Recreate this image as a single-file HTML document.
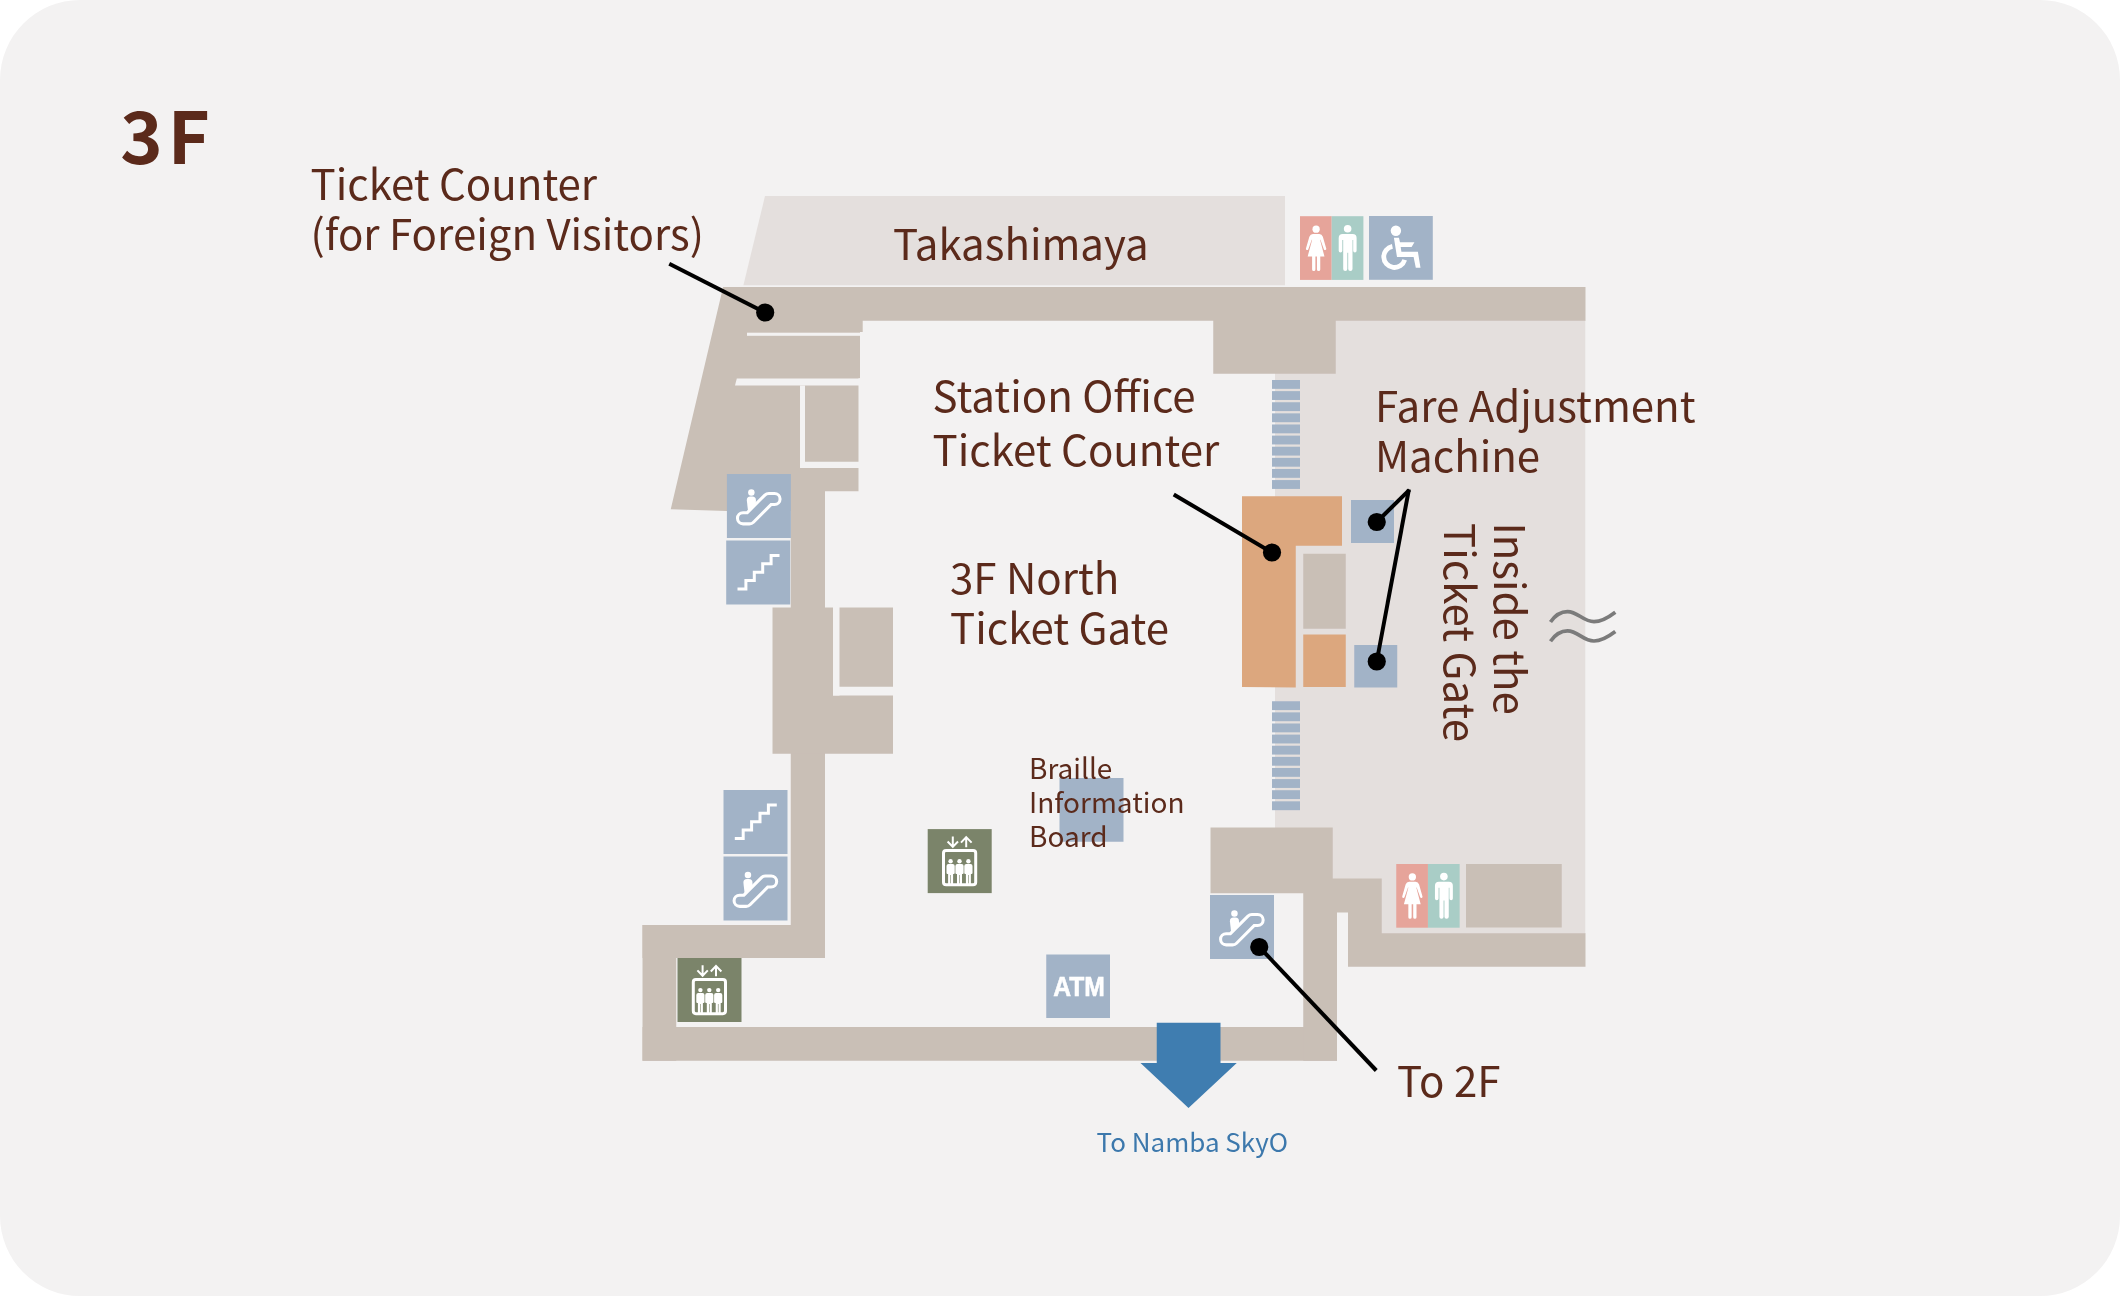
<!DOCTYPE html>
<html lang="en">
<head>
<meta charset="utf-8">
<title>3F Floor Map</title>
<style>
html,body{margin:0;padding:0;background:#fff;}
body{width:2120px;height:1296px;overflow:hidden;}
#map{display:block;width:2120px;height:1296px;will-change:transform;}
text{font-family:"Noto Sans CJK JP","Liberation Sans",sans-serif;fill:#5b2a1b;}
.l42{font-size:42px;}
.l26{font-size:28px;}
</style>
</head>
<body>
<svg id="map" width="2120" height="1296" viewBox="0 0 2120 1296">
<defs>
  <!-- escalator icon, 64x64 -->
  <g id="esc">
    <rect width="64" height="64" fill="#a2b3c7"/>
    <circle cx="24.45" cy="18.4" r="3.25" fill="#fff"/>
    <path d="M21.3 38.5 L19.9 26.2 Q19.8 22.5 23.5 22.5 L25.3 22.5 Q29 22.5 29 26.2 L29 30.5 L22 38.5 Z" fill="#fff"/>
    <path d="M16.15 44.3 H22.6 L41.9 25 H47.6" fill="none" stroke="#fff" stroke-width="14.2" stroke-linecap="round" stroke-linejoin="round"/>
    <path d="M16.15 44.3 H22.6 L41.9 25 H47.6" fill="none" stroke="#a2b3c7" stroke-width="8.1" stroke-linecap="round" stroke-linejoin="round"/>
  </g>
  <!-- stairs icon -->
  <g id="stairs">
    <rect width="64" height="64" fill="#a2b3c7"/>
    <path d="M11.3 48.5 H19.7 V40.1 H28.1 V31.7 H36.5 V23.3 H44.9 V14.9 H53.3" fill="none" stroke="#fff" stroke-width="3"/>
  </g>
  <!-- elevator icon -->
  <g id="person3">
    <circle cx="0" cy="32.1" r="2.2" fill="#fff"/>
    <path d="M-4.1 37 Q-4.1 35 -2.1 35 H2.1 Q4.1 35 4.1 37 V44 Q4.1 45 3.1 45 H2.5 V54.9 H0.3 V46 H-0.3 V54.9 H-2.5 V45 H-3.1 Q-4.1 45 -4.1 44 Z" fill="#fff"/>
  </g>
  <g id="elev">
    <rect width="64" height="64" fill="#7b846a"/>
    <rect x="15.8" y="21.4" width="32.2" height="34.3" rx="2.6" fill="none" stroke="#fff" stroke-width="3"/>
    <use href="#person3" x="22.9"/>
    <use href="#person3" x="31.8"/>
    <use href="#person3" x="40.7"/>
    <path d="M25.1 7.3 V17.6 M19.9 12.4 L25.1 17.8 L30.3 12.4" fill="none" stroke="#fff" stroke-width="2"/>
    <path d="M38.5 8.2 V18.2 M33.3 13.5 L38.5 8 L43.9 13.5" fill="none" stroke="#fff" stroke-width="2"/>
  </g>
  <!-- toilets -->
  <g id="wc">
    <rect width="31.7" height="63.7" fill="#e6a49a"/>
    <rect x="31.7" width="31.7" height="63.7" fill="#a9cdc6"/>
    <!-- woman -->
    <circle cx="16.1" cy="12.95" r="3.65" fill="#fff"/>
    <path transform="translate(0.25,0)" d="M12.6 17.8 H19.1 Q21.6 17.8 22.6 20.6 L26 32.4 Q26.2 33.6 25 33.9 Q24 34 23.6 33 L20.2 23.6 H19.8 L24.2 40.3 H20 V53.2 Q20 54.8 18.35 54.8 Q16.7 54.8 16.7 53.2 V40.3 H15.15 V53.2 Q15.15 54.8 13.5 54.8 Q11.85 54.8 11.85 53.2 V40.3 H7.4 L11.9 23.6 H11.5 L8.1 33 Q7.7 34 6.7 33.9 Q5.5 33.6 5.7 32.4 L9.1 20.6 Q10.1 17.8 12.6 17.8 Z" fill="#fff"/>
    <!-- man -->
    <g transform="translate(31.7,0)">
      <circle cx="15.95" cy="12.6" r="3.8" fill="#fff"/>
      <path d="M11 17.8 H20.9 Q24.9 17.8 24.9 21.8 V34.5 Q24.9 36.2 23.2 36.2 Q21.5 36.2 21.5 34.5 V23.8 H20.8 V52.8 Q20.8 54.8 18.65 54.8 Q16.5 54.8 16.5 52.8 V36.5 H15.6 V52.8 Q15.6 54.8 13.55 54.8 Q11.5 54.8 11.5 52.8 V23.8 H10.6 V34.5 Q10.6 36.2 8.8 36.2 Q7 36.2 7 34.5 V21.8 Q7 17.8 11 17.8 Z" fill="#fff"/>
    </g>
  </g>
  <!-- wheelchair -->
  <g id="wheel">
    <rect width="63.8" height="63.8" fill="#a2b3c7"/>
    <circle cx="26.9" cy="14.8" r="5.2" fill="#fff"/>
    <path d="M24.9 21.8 L29.96 21.8 L31 26.2 L45.45 26.2 L42.6 31 L31.7 31 L32.4 35.8 L48.9 35.8 L51.5 51.8 L46.8 51.8 L44.6 41.1 L28 41.1 Z" fill="#fff"/>
    <path d="M23.4 30.3 A10.7 10.7 0 1 0 35.7 43.9" fill="none" stroke="#fff" stroke-width="4.8"/>
  </g>
  <!-- gate bars -->
  <g id="gates">
    <g fill="#a2b3c7"><rect y="0.00" width="28" height="8.85"/><rect y="11.12" width="28" height="8.85"/><rect y="22.24" width="28" height="8.85"/><rect y="33.36" width="28" height="8.85"/><rect y="44.48" width="28" height="8.85"/><rect y="55.60" width="28" height="8.85"/><rect y="66.72" width="28" height="8.85"/><rect y="77.84" width="28" height="8.85"/><rect y="88.96" width="28" height="8.85"/><rect y="100.08" width="28" height="8.85"/></g>
  </g>
</defs>

<!-- background card -->
<rect x="0" y="0" width="2120" height="1296" rx="80" ry="80" fill="#f3f2f2"/>

<!-- light areas -->
<polygon points="765,196 1285,196 1285,285.2 743.4,285.2" fill="#e4dfdd"/>
<polygon points="1275,320 1585.3,320 1585.3,934 1381,934 1381,879 1332,879 1332,828 1275,828" fill="#e4dfdd"/>

<!-- walls -->
<g fill="#c9bfb6">
  <polygon points="723.1,287 1585.5,287 1585.5,320.75 862.7,320.75 862.7,332 860,332 860,378.3 858.5,378.3 858.5,491.25 825,491.25 825,511 727,511 670.75,509.25"/>
  <rect x="1213.25" y="320" width="122.5" height="53.75"/>
  <rect x="790.75" y="491" width="34.25" height="467"/>
  <rect x="772.5" y="607.5" width="120.5" height="146.25"/>
  <rect x="642.5" y="925" width="182.5" height="33"/>
  <rect x="642.5" y="925" width="33.75" height="135.75"/>
  <rect x="642.5" y="1027" width="694.5" height="33.75"/>
  <rect x="1303.25" y="890" width="33.75" height="170.75"/>
  <rect x="1210.5" y="827.5" width="122.25" height="65.75"/>
  <polygon points="1332,878.5 1381.75,878.5 1381.75,933.25 1585.5,933.25 1585.5,966.75 1348,966.75 1348,912.5 1332,912.5"/>
  <rect x="1466" y="864" width="95.75" height="63.5"/>
  <rect x="1303.25" y="553.75" width="42.5" height="75"/>
</g>
<!-- bg-coloured cut lines -->
<g fill="#f3f2f2">
  <rect x="747" y="332.7" width="116" height="3.1"/>
  <polygon points="736.8,378.5 861,378.5 861,385.6 735,385.6"/>
  <rect x="800" y="385.5" width="5" height="82.5"/>
  <rect x="800" y="461.75" width="59" height="6.25"/>
  <rect x="833" y="607" width="6.5" height="88.5"/>
  <rect x="833" y="686.75" width="60.5" height="8.75"/>
</g>

<!-- ticket gates -->
<use href="#gates" x="1272" y="380"/>
<use href="#gates" x="1272" y="701.25"/>

<!-- station office (orange) -->
<g fill="#dca77e">
  <polygon points="1242,496.25 1342,496.25 1342,545.75 1295.75,545.75 1295.75,687.5 1242,687"/>
  <rect x="1303.25" y="634.5" width="42.5" height="52.5"/>
</g>
<!-- fare adjustment machines -->
<rect x="1351" y="500" width="43" height="43" fill="#a2b3c7"/>
<rect x="1354.25" y="645" width="43" height="42.5" fill="#a2b3c7"/>

<!-- icons -->
<use href="#esc" x="726.9" y="474"/>
<use href="#stairs" x="726.2" y="540.5"/>
<use href="#stairs" x="723.5" y="790"/>
<use href="#esc" x="723.5" y="856.5"/>
<use href="#esc" x="1210" y="895"/>
<use href="#elev" x="677.5" y="958"/>
<use href="#elev" x="927.7" y="829.1"/>
<rect x="1059.5" y="778" width="64" height="63.75" fill="#a2b3c7"/>
<rect x="1046.25" y="954.5" width="63.75" height="63.5" fill="#a2b3c7"/>
<text x="1053.2" y="996.3" textLength="51.6" lengthAdjust="spacingAndGlyphs" style="font-family:'Liberation Sans',sans-serif;font-weight:700;font-size:28px;fill:#fff;stroke:#fff;stroke-width:0.6px">ATM</text>
<use href="#wc" x="1300" y="216.2"/>
<use href="#wheel" x="1369" y="216"/>
<use href="#wc" x="1396.25" y="864"/>

<!-- arrow -->
<polygon points="1156.75,1022.75 1220.5,1022.75 1220.5,1063 1236.75,1063 1188.5,1108 1140.5,1063 1156.75,1063" fill="#3f7db0"/>
<text x="1096.5" y="1152" style="font-size:26px;fill:#3c78ac">To Namba SkyO</text>

<!-- wave -->
<g fill="none" stroke="#7b7b7b" stroke-width="3.7">
  <path d="M1550.5 622 C1556 614 1561.5 611.6 1567.5 611.6 C1578 611.6 1583 621.7 1594 621.7 C1602 621.7 1609 617 1615.3 612.2"/>
  <path d="M1550.5 641.3 C1556 633.3 1561.5 630.9 1567.5 630.9 C1578 630.9 1583 641 1594 641 C1602 641 1609 636.3 1615.3 631.5"/>
</g>

<!-- leader lines -->
<g stroke="#000" stroke-width="4" fill="none">
  <line x1="669.25" y1="263.75" x2="765.2" y2="312.5"/>
  <line x1="1173.75" y1="494.5" x2="1272" y2="552.5"/>
  <line x1="1376.75" y1="522" x2="1409.4" y2="489.8"/><line x1="1376.75" y1="661.5" x2="1408.9" y2="489.4"/>
  <line x1="1259.25" y1="947" x2="1376.25" y2="1070.5"/>
</g>
<g fill="#000">
  <circle cx="765.2" cy="312.5" r="9.1"/>
  <circle cx="1272" cy="552.5" r="9.1"/>
  <circle cx="1376.75" cy="522" r="9.1"/>
  <circle cx="1376.75" cy="661.5" r="9.1"/>
  <circle cx="1259.25" cy="947" r="9.1"/>
</g>

<!-- labels -->
<text x="120.3" y="164" style="font-size:72px;font-weight:700;letter-spacing:5px">3F</text>
<text class="l42" x="310.5" y="200">Ticket Counter</text>
<text class="l42" x="310.5" y="250">(for Foreign Visitors)</text>
<text class="l42" x="893" y="260">Takashimaya</text>
<text class="l42" x="932.6" y="412.3">Station Office</text>
<text class="l42" x="932.6" y="465.6">Ticket Counter</text>
<text class="l42" x="1375" y="422">Fare Adjustment</text>
<text class="l42" x="1375" y="471.75">Machine</text>
<text class="l42" x="950" y="593.75">3F North</text>
<text class="l42" x="950" y="643.75">Ticket Gate</text>
<text class="l42" transform="translate(1493.6,522.4) rotate(90)">Inside the</text>
<text class="l42" transform="translate(1443.8,523) rotate(90)">Ticket Gate</text>
<text class="l26" x="1029" y="778.5">Braille</text>
<text class="l26" x="1029" y="812.9">Information</text>
<text class="l26" x="1029" y="846.9">Board</text>
<text class="l42" x="1397" y="1097">To 2F</text>
</svg>
</body>
</html>
